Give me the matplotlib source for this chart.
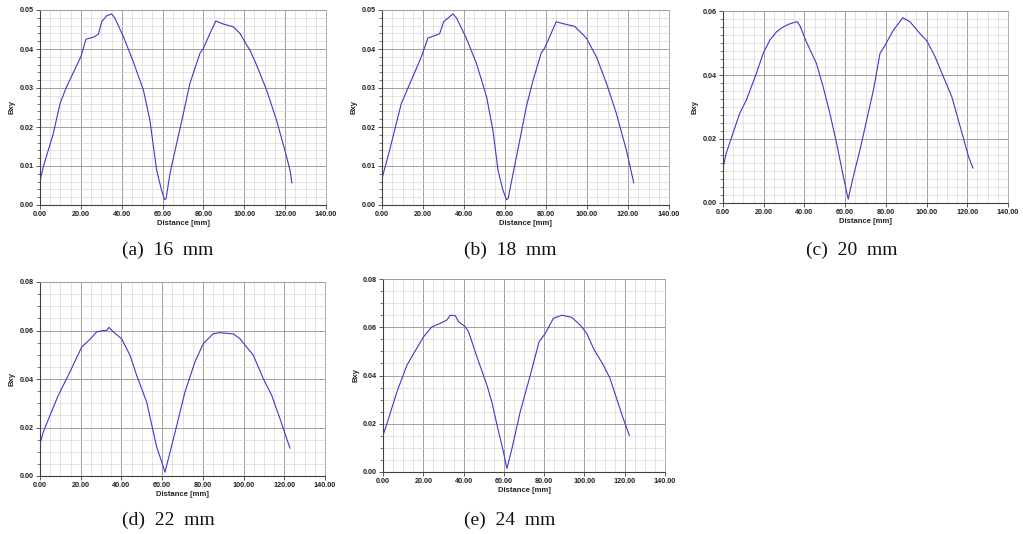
import matplotlib
matplotlib.use("Agg")
import matplotlib.pyplot as plt
from matplotlib.ticker import MultipleLocator, FormatStrFormatter
import numpy as np

# ---- data ----
x_a = [0.3, 1.6, 6.5, 9.8, 13.0, 20.0, 22.5, 23.7, 26.0, 28.6, 30.2, 32.6, 35.1, 36.7, 40.8,
       45.7, 50.6, 53.8, 57.1, 59.5, 60.9, 61.7, 63.6, 66.9, 70.2, 73.4, 78.3, 80.0, 83.2,
       86.1, 89.7, 94.6, 97.9, 101.2, 102.8, 106.0, 110.9, 115.8, 119.9, 122.4, 123.3]
y_a = [0.0068, 0.0098, 0.0183, 0.0260, 0.0303, 0.0380, 0.0425, 0.0427, 0.0430, 0.0438, 0.0470,
       0.0485, 0.0490, 0.0479, 0.0432, 0.0367, 0.0295, 0.0217, 0.0089, 0.0038, 0.0014, 0.0016,
       0.0080, 0.0158, 0.0235, 0.0312, 0.0389, 0.0402, 0.0440, 0.0472, 0.0464, 0.0457, 0.0440,
       0.0410, 0.0397, 0.0359, 0.0295, 0.0217, 0.0140, 0.0089, 0.0057]

x_b = [0.0, 3.7, 9.4, 19.2, 22.4, 28.1, 30.1, 34.6, 36.3, 41.1, 46.0, 51.0, 54.1, 56.6, 59.0,
       60.7, 61.5, 63.9, 67.2, 70.4, 73.7, 77.7, 79.3, 85.0, 88.3, 94.0, 99.7, 104.6, 109.5,
       114.3, 119.2, 122.8]
y_b = [0.0068, 0.0140, 0.0260, 0.0380, 0.0428, 0.0439, 0.0470, 0.0490, 0.0480, 0.0428, 0.0364,
       0.0278, 0.0192, 0.0089, 0.0038, 0.0014, 0.0016, 0.0080, 0.0166, 0.0252, 0.0320, 0.0390,
       0.0402, 0.0470, 0.0465, 0.0458, 0.0428, 0.0380, 0.0312, 0.0235, 0.0141, 0.0057]

x_c = [0.0, 1.6, 4.9, 8.2, 11.5, 16.4, 19.7, 23.0, 26.3, 29.5, 32.8, 36.4, 37.7, 41.0, 45.9,
       49.2, 52.5, 55.8, 59.1, 61.5, 64.0, 67.3, 70.6, 73.9, 77.1, 79.6, 83.7, 88.3, 91.9,
       96.8, 100.1, 104.2, 108.3, 112.4, 116.5, 120.6, 122.8]
y_c = [0.0109, 0.0156, 0.0218, 0.0280, 0.0322, 0.0405, 0.0467, 0.0509, 0.0535, 0.0550, 0.0560,
       0.0567, 0.0555, 0.0503, 0.0436, 0.0363, 0.0280, 0.0187, 0.0083, 0.0012, 0.0083, 0.0166,
       0.0260, 0.0353, 0.0467, 0.0493, 0.0540, 0.0579, 0.0566, 0.0529, 0.0507, 0.0457, 0.0394,
       0.0332, 0.0239, 0.0145, 0.0109]

x_d = [0.0, 1.6, 4.9, 9.0, 14.7, 20.5, 24.6, 27.8, 31.1, 32.8, 33.9, 36.0, 40.1, 44.2, 47.5,
       52.4, 57.3, 59.8, 61.4, 63.9, 67.2, 71.2, 76.1, 80.2, 85.1, 88.4, 95.0, 98.2, 104.8,
       109.7, 113.8, 117.9, 121.2, 122.8]
y_d = [0.0133, 0.0181, 0.0250, 0.0333, 0.0429, 0.0532, 0.0564, 0.0594, 0.0600, 0.0600, 0.0613,
       0.0594, 0.0566, 0.0498, 0.0415, 0.0305, 0.0120, 0.0058, 0.0016, 0.0099, 0.0209, 0.0346,
       0.0470, 0.0546, 0.0587, 0.0591, 0.0586, 0.0566, 0.0498, 0.0401, 0.0333, 0.0236, 0.0154,
       0.0115]

x_e = [0.0, 2.0, 6.9, 11.9, 15.2, 20.2, 24.3, 28.4, 31.7, 33.4, 35.9, 37.5, 40.8, 42.5, 46.6,
       51.6, 54.0, 57.4, 59.8, 61.5, 64.0, 68.1, 73.1, 77.5, 80.5, 84.6, 88.8, 93.7, 97.9,
       101.2, 104.5, 109.4, 112.7, 116.0, 119.3, 122.3]
y_e = [0.0152, 0.0201, 0.0332, 0.0443, 0.0491, 0.0561, 0.0602, 0.0616, 0.0630, 0.0650, 0.0648,
       0.0623, 0.0602, 0.0581, 0.0478, 0.0360, 0.0291, 0.0166, 0.0083, 0.0014, 0.0097, 0.0249,
       0.0401, 0.0540, 0.0574, 0.0637, 0.0650, 0.0641, 0.0609, 0.0574, 0.0512, 0.0443, 0.0388,
       0.0304, 0.0221, 0.0152]

captions = ["(a)  16  mm", "(b)  18  mm", "(c)  20  mm", "(d)  22  mm", "(e)  24  mm"]
y_max = [0.05, 0.05, 0.06, 0.08, 0.08]
y_major = [0.01, 0.01, 0.02, 0.02, 0.02]
y_minor = [0.002, 0.002, 0.0025, 0.005, 0.005]

# ---- layout ----
W, H = 1023, 534
fig = plt.figure(figsize=(W / 100, H / 100), dpi=100)
fig.patch.set_facecolor("white")

boxes = [(40, 10, 326, 205), (382, 10, 669, 205), (723, 11, 1008, 203),
         (40, 282, 325, 476), (383, 279, 665, 472)]
cap_pos = [(168, 250), (510, 250), (852, 250), (168, 520), (510, 520)]
xs = [x_a, x_b, x_c, x_d, x_e]
ys = [y_a, y_b, y_c, y_d, y_e]

for i, (l, t, r, b) in enumerate(boxes):
    ax = fig.add_axes([l / W, 1 - b / H, (r - l) / W, (b - t) / H])
    ax.plot(xs[i], ys[i], color="#3a3acc", lw=0.8)
    ax.set_xlim(0, 140)
    ax.set_ylim(0, y_max[i])
    ax.xaxis.set_major_locator(MultipleLocator(20))
    ax.xaxis.set_minor_locator(MultipleLocator(5))
    ax.yaxis.set_major_locator(MultipleLocator(y_major[i]))
    ax.yaxis.set_minor_locator(MultipleLocator(y_minor[i]))
    ax.xaxis.set_major_formatter(FormatStrFormatter("%.2f"))
    ax.yaxis.set_major_formatter(FormatStrFormatter("%.2f"))
    ax.grid(which="major", color="#a0a0a0", lw=0.7)
    ax.grid(which="minor", color="#d8d8d8", lw=0.5)
    ax.set_axisbelow(True)
    ax.tick_params(which="major", length=3, width=0.6, pad=1.5, color="#404040")
    ax.tick_params(which="minor", length=2, width=0.5, color="#404040")
    ax.tick_params(axis="x", which="minor", length=0)
    for lab in ax.get_xticklabels() + ax.get_yticklabels():
        lab.set_fontfamily("Liberation Sans")
        lab.set_fontweight("bold")
        lab.set_fontsize(5.2)
        lab.set_color("#222222")
    for s in ["left", "bottom"]:
        ax.spines[s].set_color("#404040")
        ax.spines[s].set_linewidth(0.8)
    for s in ["top", "right"]:
        ax.spines[s].set_color("#a0a0a0")
        ax.spines[s].set_linewidth(0.6)
    ax.set_xlabel("Distance [mm]", family="Liberation Sans", weight="bold",
                  size=5.5, labelpad=1, color="#222222")
    ax.set_ylabel("Bxy", family="Liberation Sans", weight="bold",
                  size=5.5, color="#222222")
    ax.yaxis.set_label_coords(-0.085, 0.5)
    cx, cy = cap_pos[i]
    fig.text(cx / W, 1 - cy / H, captions[i], ha="center", va="center",
             family="Liberation Serif", size=14, color="#111111")

fig.savefig("out.png", dpi=100, facecolor="white")
